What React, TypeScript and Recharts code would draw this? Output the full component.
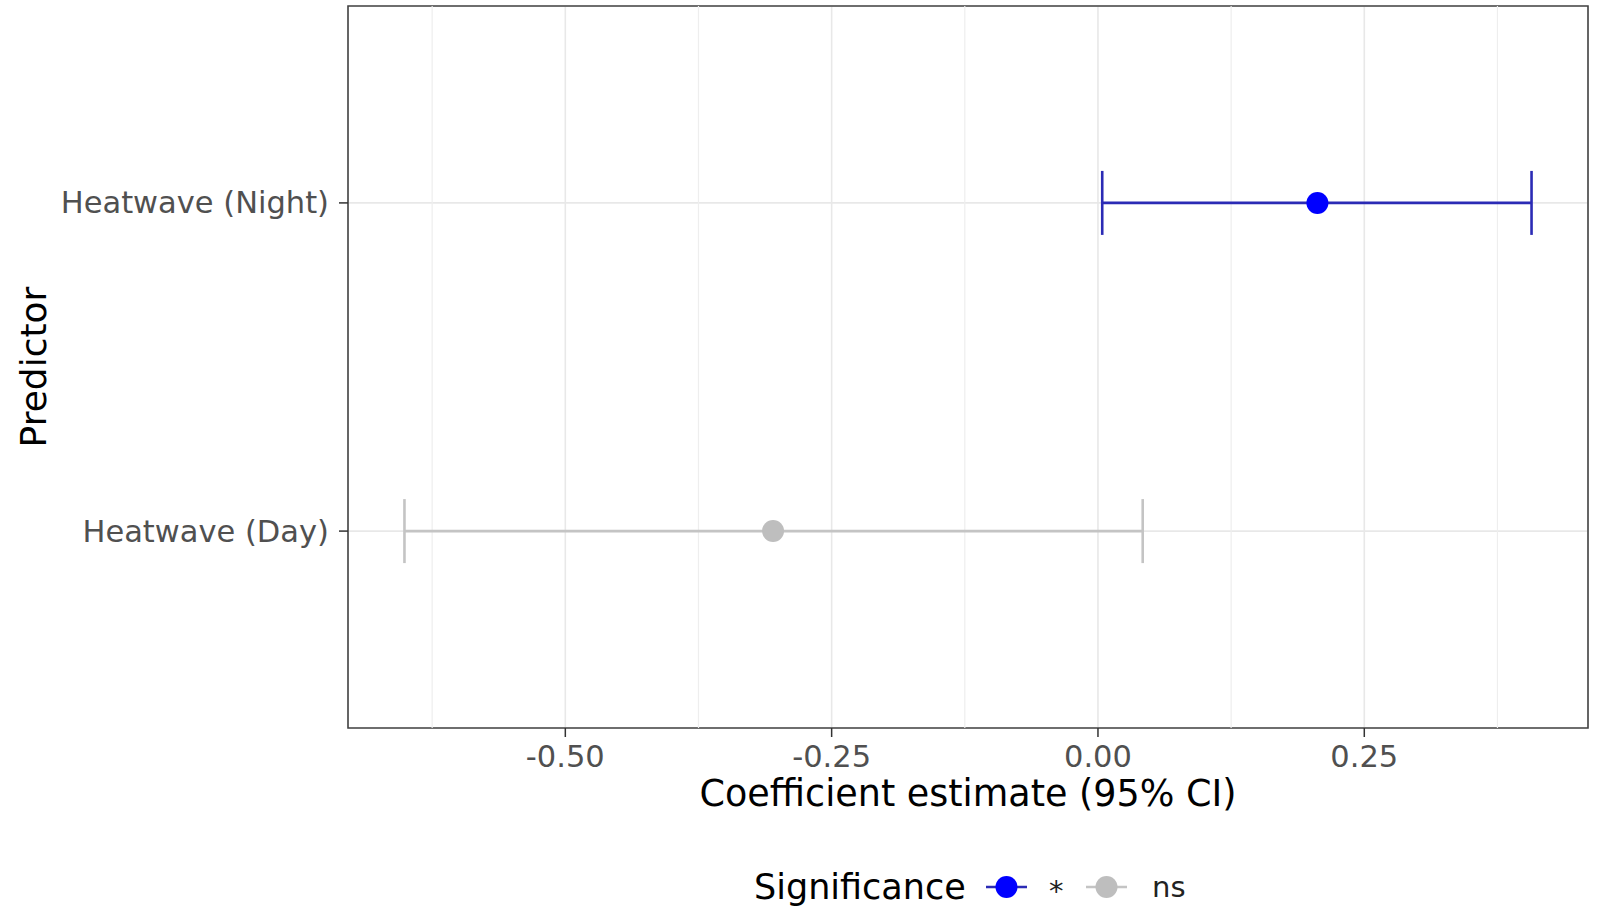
import { ScatterChart, Scatter, XAxis, YAxis, ErrorBar, CartesianGrid, ReferenceLine, ReferenceArea, Label } from 'recharts'

const FONT = '"DejaVu Sans", "Liberation Sans", sans-serif'

// predictors, bottom to top
const predictors = ['Heatwave (Day)', 'Heatwave (Night)']
const estimates = [-0.305, 0.206]
const lowerCI = [-0.651, 0.004]
const upperCI = [0.042, 0.407]
const significance = ['ns', '*']

const xTicks = [-0.5, -0.25, 0, 0.25]
const xMinorGrid = [-0.625, -0.375, -0.125, 0.125, 0.375]
const xDomain = [-0.704, 0.46]
const yDomain = [0.4, 2.6]

const groups = [
  { key: '*', point: '#0000ff', bar: '#2b2bb5' },
  { key: 'ns', point: '#bebebe', bar: '#c4c4c4' },
]

const rows = predictors.map((name, i) => ({
  name,
  x: estimates[i],
  y: i + 1,
  err: [estimates[i] - lowerCI[i], upperCI[i] - estimates[i]],
  sig: significance[i],
}))

function XTick({ x, y, payload }: any) {
  return (
    <text x={x} y={y} dy={17} textAnchor="middle" dominantBaseline="central" fontSize={30.5} fill="#505050" fontFamily={FONT}>
      {Number(payload.value).toFixed(2)}
    </text>
  )
}

function YTick({ x, y, payload }: any) {
  return (
    <text x={x} y={y} dx={-8} textAnchor="end" dominantBaseline="central" fontSize={30.5} fill="#505050" fontFamily={FONT}>
      {predictors[payload.value - 1]}
    </text>
  )
}

export default function App() {
  return (
    <div style={{ position: 'absolute', left: 0, top: 0, width: 1598, height: 907, background: '#fff' }}>
      <ScatterChart width={1598} height={907} margin={{ top: 6, right: 10, bottom: 0, left: 0 }}>
        <CartesianGrid stroke="#e8e8e8" strokeWidth={1.6} />
        {xMinorGrid.map((v) => (
          <ReferenceLine key={v} x={v} stroke="#eeeeee" strokeWidth={1.2} />
        ))}
        <XAxis
          type="number"
          dataKey="x"
          domain={xDomain}
          ticks={xTicks}
          allowDataOverflow
          height={179}
          axisLine={false}
          tickSize={9}
          tickLine={{ stroke: '#333', strokeWidth: 1.5 }}
          tick={<XTick />}
        >
          <Label
            content={({ viewBox }: any) => (
              <text x={viewBox.x + viewBox.width / 2} y={viewBox.y + 65} textAnchor="middle" dominantBaseline="central" fontSize={36.5} fill="#000" fontFamily={FONT}>
                Coefficient estimate (95% CI)
              </text>
            )}
          />
        </XAxis>
        <YAxis
          type="number"
          dataKey="y"
          domain={yDomain}
          ticks={[1, 2]}
          allowDataOverflow
          width={348}
          axisLine={false}
          tickSize={9}
          tickLine={{ stroke: '#333', strokeWidth: 1.5 }}
          tick={<YTick />}
        >
          <Label
            content={({ viewBox }: any) => {
              const cx = viewBox.x + 33
              const cy = viewBox.y + viewBox.height / 2
              return (
                <text x={cx} y={cy} transform={`rotate(-90 ${cx} ${cy})`} textAnchor="middle" dominantBaseline="central" fontSize={36} fill="#000" fontFamily={FONT}>
                  Predictor
                </text>
              )
            }}
          />
        </YAxis>
        <ReferenceArea x1={xDomain[0]} x2={xDomain[1]} y1={yDomain[0]} y2={yDomain[1]} fill="none" stroke="#444" strokeWidth={1.6} />
        {groups.map((g) => (
          <Scatter
            key={g.key}
            data={rows.filter((r) => r.sig === g.key)}
            isAnimationActive={false}
            shape={(p: any) => <circle cx={p.cx} cy={p.cy} r={11} fill={g.point} />}
          >
            <ErrorBar dataKey="err" direction="x" width={32} stroke={g.bar} strokeWidth={2.6} isAnimationActive={false} />
          </Scatter>
        ))}
      </ScatterChart>

      {/* legend */}
      <svg style={{ position: 'absolute', left: 0, top: 860 }} width={1598} height={47}>
        <text x={754} y={27} dominantBaseline="central" fontSize={35} fill="#000" fontFamily={FONT}>Significance</text>
        {groups.map((g, i) => {
          const x0 = 986 + i * 100
          return (
            <g key={g.key}>
              <line x1={x0} x2={x0 + 41} y1={27} y2={27} stroke={g.bar} strokeWidth={2.6} />
              <circle cx={x0 + 20.5} cy={27} r={11} fill={g.point} />
              <text x={x0 + (g.key === '*' ? 63 : 66)} y={g.key === '*' ? 31 : 27} dominantBaseline="central" fontSize={29} fill="#222" fontFamily={FONT}>{g.key}</text>
            </g>
          )
        })}
      </svg>
    </div>
  )
}
